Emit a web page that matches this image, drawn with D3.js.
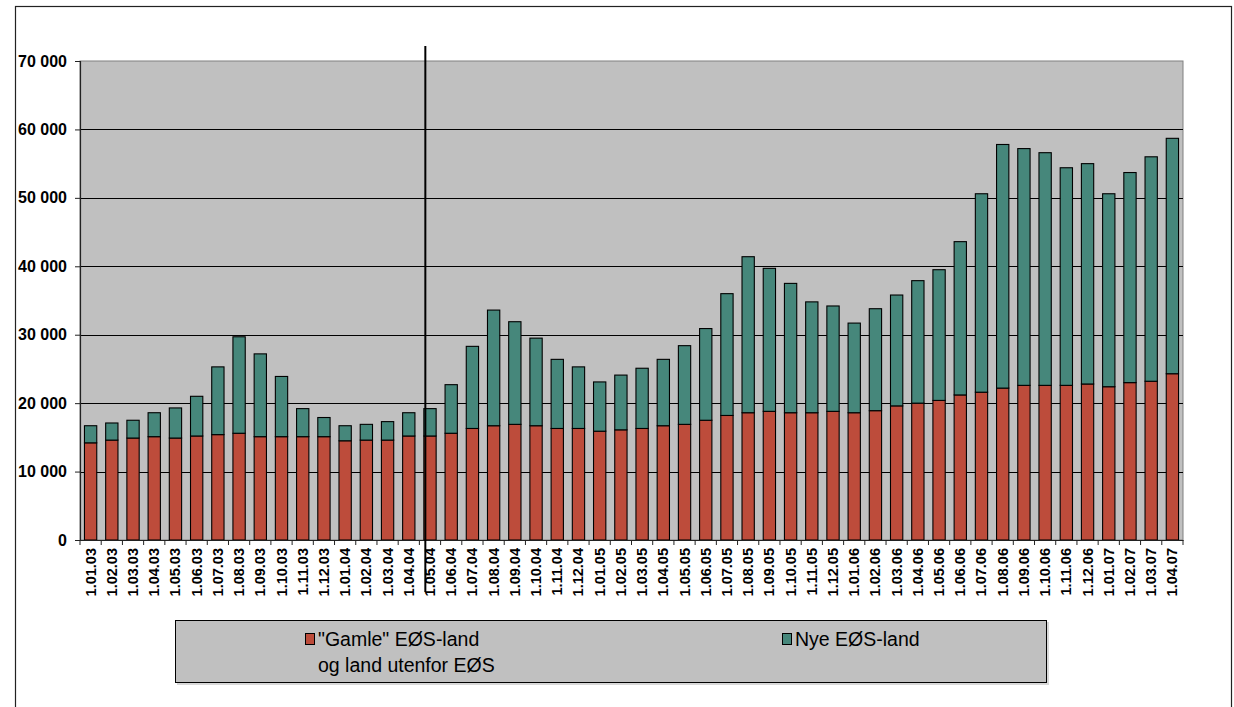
<!DOCTYPE html>
<html>
<head>
<meta charset="utf-8">
<script src="https://cdn.jsdelivr.net/npm/d3@7"></script>
<style>
  html, body { margin: 0; padding: 0; background: #ffffff; }
  svg { display: block; }
</style>
</head>
<body>
<svg id="chart" width="1234" height="707"></svg>
<script>
// Monthly counts, 1.01.03 – 1.04.07
const months = [
  "1.01.03","1.02.03","1.03.03","1.04.03","1.05.03","1.06.03","1.07.03","1.08.03","1.09.03","1.10.03","1.11.03","1.12.03",
  "1.01.04","1.02.04","1.03.04","1.04.04","1.05.04","1.06.04","1.07.04","1.08.04","1.09.04","1.10.04","1.11.04","1.12.04",
  "1.01.05","1.02.05","1.03.05","1.04.05","1.05.05","1.06.05","1.07.05","1.08.05","1.09.05","1.10.05","1.11.05","1.12.05",
  "1.01.06","1.02.06","1.03.06","1.04.06","1.05.06","1.06.06","1.07.06","1.08.06","1.09.06","1.10.06","1.11.06","1.12.06",
  "1.01.07","1.02.07","1.03.07","1.04.07"
];

// "Gamle" EØS-land og land utenfor EØS
const gamle = [
  14200,14600,14900,15100,14900,15200,15400,15600,15100,15100,15100,15100,
  14500,14600,14600,15200,15200,15600,16300,16700,16900,16700,16300,16300,
  15900,16100,16300,16700,16900,17500,18200,18600,18800,18600,18600,18800,
  18600,18900,19600,20000,20400,21200,21600,22200,22600,22600,22600,22800,
  22400,23000,23200,24300
];

// Nye EØS-land
const nye = [
  2500,2500,2600,3500,4400,5800,9900,14100,12100,8800,4100,2800,
  2200,2300,2700,3400,4000,7100,12000,16900,15000,12800,10100,9000,
  7200,8000,8800,9700,11500,13400,17800,22800,20900,18900,16200,15400,
  13100,14900,16200,17900,19100,22400,29000,35600,34600,34000,31800,32200,
  28200,30700,32800,34400
];

const yTicks = [0,10000,20000,30000,40000,50000,60000,70000];
const seriesNames = ["\"Gamle\" EØS-land", "Nye EØS-land"];
const seriesColors = ["#BD4C3B", "#46877B"];

const svg = d3.select("#chart");

// outer chart frame
svg.append("rect")
  .attr("x", 15.5).attr("y", 6.5)
  .attr("width", 1216).attr("height", 740)
  .attr("fill", "#ffffff").attr("stroke", "#222").attr("stroke-width", 1.2);

const plot = { left: 80, top: 61, right: 1183, bottom: 540 };

const x = d3.scaleBand()
  .domain(months)
  .range([plot.left, plot.right])
  .paddingInner(0.42)
  .paddingOuter(0.21);

const y = d3.scaleLinear()
  .domain([0, 70000])
  .range([plot.bottom, plot.top]);

// plot background
svg.append("rect")
  .attr("x", plot.left).attr("y", plot.top)
  .attr("width", plot.right - plot.left).attr("height", plot.bottom - plot.top)
  .attr("fill", "#C0C0C0").attr("stroke", "#808080").attr("stroke-width", 1);

// horizontal gridlines
svg.append("g")
  .selectAll("line")
  .data(yTicks.filter(d => d > 0 && d < 70000))
  .join("line")
  .attr("x1", plot.left).attr("x2", plot.right)
  .attr("y1", d => Math.round(y(d)) + 0.5).attr("y2", d => Math.round(y(d)) + 0.5)
  .attr("stroke", "#000").attr("stroke-width", 1);

// stacked bars
const rows = months.map((m, i) => ({ month: m, gamle: gamle[i], nye: nye[i] }));
const stacked = d3.stack().keys(["gamle", "nye"])(rows);

svg.append("g")
  .selectAll("g")
  .data(stacked)
  .join("g")
  .attr("fill", (d, i) => seriesColors[i])
  .selectAll("rect")
  .data(d => d)
  .join("rect")
  .attr("x", d => x(d.data.month))
  .attr("width", x.bandwidth())
  .attr("y", d => y(d[1]))
  .attr("height", d => y(d[0]) - y(d[1]))
  .attr("stroke", "#000")
  .attr("stroke-width", 1.1);

// y axis
const yAxis = d3.axisLeft(y)
  .tickValues(yTicks)
  .tickSize(5)
  .tickPadding(8)
  .tickFormat(d => d3.format(",")(d).replace(/,/g, " "));

const gy = svg.append("g")
  .attr("transform", `translate(${plot.left},0)`)
  .call(yAxis);
gy.select(".domain").attr("stroke", "#222").attr("stroke-width", 1.2);
gy.selectAll(".tick line").attr("stroke", "#222");
gy.selectAll("text")
  .attr("font-family", "'Liberation Sans', Arial, sans-serif")
  .attr("font-size", 16).attr("font-weight", "bold").attr("fill", "#000");

// x axis with rotated labels
const xAxis = d3.axisBottom(x).tickSize(0).tickPadding(0);
const gx = svg.append("g")
  .attr("transform", `translate(0,${plot.bottom})`)
  .call(xAxis);
gx.select(".domain").attr("stroke", "#222").attr("stroke-width", 1.2);
gx.selectAll(".tick text")
  .attr("font-family", "'Liberation Sans', Arial, sans-serif")
  .attr("font-size", 14.5).attr("font-weight", "bold").attr("fill", "#000")
  .attr("text-anchor", "end")
  .attr("dy", null)
  .attr("transform", "translate(5,8) rotate(-90)");

// category boundary ticks
const step = x.step();
svg.append("g")
  .selectAll("line")
  .data(d3.range(months.length + 1))
  .join("line")
  .attr("x1", i => plot.left + i * step).attr("x2", i => plot.left + i * step)
  .attr("y1", plot.bottom).attr("y2", plot.bottom + 5)
  .attr("stroke", "#222").attr("stroke-width", 1);

// marker line at 1.05.04
const mx = x("1.05.04") + 1.5;
svg.append("line")
  .attr("x1", mx).attr("x2", mx)
  .attr("y1", 46).attr("y2", 592)
  .attr("stroke", "#000").attr("stroke-width", 2);

// legend
const lg = svg.append("g");
lg.append("rect")
  .attr("x", 177).attr("y", 622).attr("width", 872).attr("height", 63)
  .attr("fill", "#d8d8d8");
lg.append("rect")
  .attr("x", 175.5).attr("y", 620.5).attr("width", 871).attr("height", 62)
  .attr("fill", "#C0C0C0").attr("stroke", "#000").attr("stroke-width", 1);

const legendItems = [
  { x: 310, lines: [seriesNames[0], "og land utenfor EØS"], color: seriesColors[0] },
  { x: 787, lines: [seriesNames[1]], color: seriesColors[1] }
];
legendItems.forEach(item => {
  lg.append("rect")
    .attr("x", item.x - 4.5).attr("y", 633.5).attr("width", 9).attr("height", 11)
    .attr("fill", item.color).attr("stroke", "#000").attr("stroke-width", 1);
  item.lines.forEach((t, k) => {
    lg.append("text")
      .attr("x", item.x + 8).attr("y", 646 + k * 26)
      .attr("font-family", "'Liberation Sans', Arial, sans-serif")
      .attr("font-size", 19.5).attr("fill", "#000")
      .text(t);
  });
});
</script>
</body>
</html>
